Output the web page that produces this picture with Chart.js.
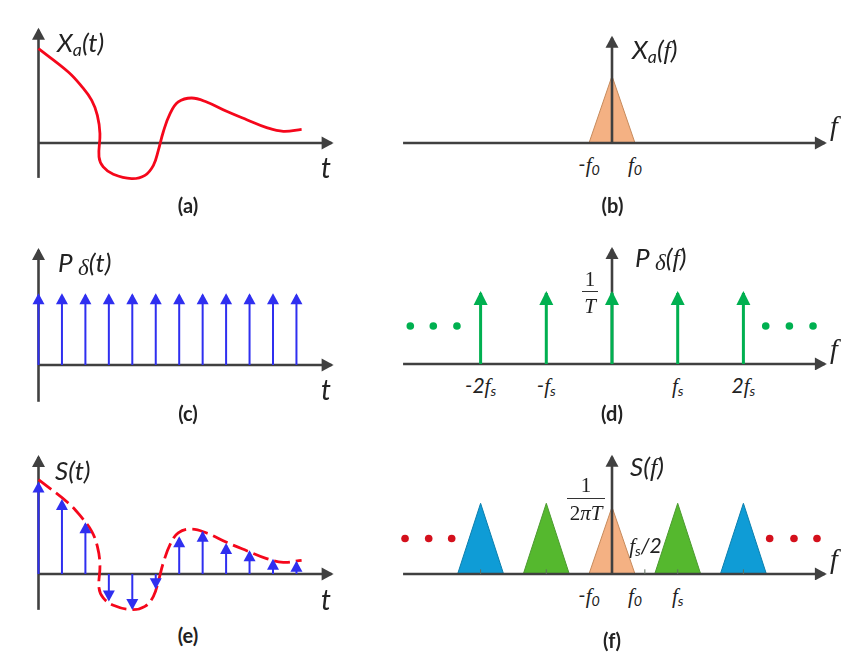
<!DOCTYPE html>
<html>
<head>
<meta charset="utf-8">
<script src="https://cdn.jsdelivr.net/npm/chart.js@4/dist/chart.umd.min.js"></script>
<style>
  html, body { margin: 0; background: #fff; }
  #page { position: relative; width: 865px; height: 671px; overflow: hidden; }
  canvas { position: absolute; }
  .txt { position: absolute; transform: translate(-50%, -50%); white-space: nowrap; color: #222;
         font-family: Lato, "Open Sans", sans-serif; font-style: italic; line-height: 1; }
  .txt sub { font-size: 68%; vertical-align: baseline; position: relative; top: 0.2em; }
  .ff { font-family: "Liberation Serif", serif; font-style: italic; }
  .name { font-size: 26px; transform: translate(0, -50%); }
  .end { font-size: 28px; }
  .tick { font-size: 21px; }
  .cap { font-size: 20px; font-weight: 700; font-style: normal; }
  .math { font-family: "Liberation Serif", serif; font-size: 21px; font-style: normal; }
  .math i { font-style: italic; }
  .delta { font-family: "Liberation Serif", serif; font-size: 23px; position: relative; top: 0.12em; }
  .bar { position: absolute; height: 1px; background: #333; }
</style>
</head>
<body>
<div id="page"></div>
<script>
// Continuous signal X_a(t), t in sample periods
const curveT = [0, 1.27, 1.84, 2.27, 2.51, 2.62, 2.58, 2.76, 3.19, 3.97, 4.54, 4.9, 5.11, 5.32, 5.61, 5.96, 6.53, 7.17, 8.02, 8.88, 9.73, 10.44, 11.22];
const curveY = [1, 0.753, 0.6, 0.452, 0.293, 0.099, -0.148, -0.254, -0.332, -0.378, -0.343, -0.237, -0.078, 0.117, 0.311, 0.435, 0.477, 0.435, 0.336, 0.247, 0.163, 0.124, 0.145];

// Sampling comb and sampled signal
const sampleT = [0, 1, 2, 3, 4, 5, 6, 7, 8, 9, 10, 11];
const combY = [0.74, 0.74, 0.74, 0.74, 0.74, 0.74, 0.74, 0.74, 0.74, 0.74, 0.74, 0.74];
const sampledY = [0.96, 0.774, 0.527, -0.27, -0.36, -0.14, 0.378, 0.438, 0.307, 0.23, 0.141, 0.12];

// Spectrum lines, f in units of fs
const combF = [-2, -1, 0, 1, 2];
const combFY = [1, 1, 1, 1, 1];
const dotsDF = [-3.07, -2.72, -2.36, 2.34, 2.7, 3.06];
const dotsDY = [0.535, 0.535, 0.535, 0.535, 0.535, 0.535];
const dotsSF = [-3.15, -2.79, -2.44, 2.4, 2.77, 3.12];
const dotsSY = [0.53, 0.53, 0.53, 0.53, 0.53, 0.53];

// Triangular spectra
const f0 = 0.35;
const baseF = [0];
const baseH = [1];
const imageF = [-1, 1];
const imageH = [1.055, 1.055];
const image2F = [-2, 2];
const image2H = [1.055, 1.055];
const smallTicks = [-2, -1, 0.5, 1, 2];

// Tick labels
const F = '<span class="ff">f</span>';
const ticksB = [-0.35, 0.35];
const ticksBLabels = [`-${F}<sub>0</sub>`, `${F}<sub>0</sub>`];
const ticksD = [-2, -1, 1, 2];
const ticksDLabels = [`-2${F}<sub>s</sub>`, `-${F}<sub>s</sub>`, `${F}<sub>s</sub>`, `2${F}<sub>s</sub>`];
const ticksF = [-0.35, 0.35, 1];
const ticksFLabels = [`-${F}<sub>0</sub>`, `${F}<sub>0</sub>`, `${F}<sub>s</sub>`];

const AXIS = "#404040", RED = "#f5071b", BLUE = "#2f2ff0", GREEN = "#00b050", DOT_RED = "#d4101c";

const page = document.getElementById("page");

function pts(xs, ys) {
  return xs.map((x, i) => ({ x: x, y: ys[i] }));
}

// vertical stems with a gap between them
function stems(xs, ys) {
  const out = [];
  xs.forEach((x, i) => {
    out.push({ x: x, y: 0 }, { x: x, y: ys[i] }, { x: null, y: null });
  });
  out.pop();
  return out;
}

function triangle(center, h, fillColor, edge) {
  return {
    data: [{ x: center - f0, y: 0 }, { x: center, y: h }, { x: center + f0, y: 0 }],
    showLine: true, pointRadius: 0, tension: 0, fill: { value: 0 },
    backgroundColor: fillColor, borderColor: edge, borderWidth: 1, order: 5
  };
}

function axisLine(data) {
  return { data: data, showLine: true, pointRadius: 0, borderColor: AXIS, borderWidth: 2.6, headLength: 12, headWidth: 13, order: 3 };
}

function impulses(xs, ys, color, width, len, headW) {
  return { data: stems(xs, ys), showLine: true, pointRadius: 0, borderColor: color, borderWidth: width, headLength: len, headWidth: headW, order: 1 };
}

function dots(xs, ys, color) {
  return { data: pts(xs, ys), showLine: false, pointRadius: 3.8, pointBackgroundColor: color, pointBorderWidth: 0, order: 1 };
}

// Draws a filled arrow head at the end of every line piece of a dataset
const arrowHeads = {
  id: "arrowHeads",
  afterDatasetDraw(chart, args) {
    const ds = chart.data.datasets[args.index];
    if (!ds.headLength) return;
    const p = args.meta.data, ctx = chart.ctx;
    for (let i = 1; i < p.length; i++) {
      if (p[i].skip || p[i - 1].skip) continue;
      if (p[i + 1] && !p[i + 1].skip) continue;
      const a = Math.atan2(p[i].y - p[i - 1].y, p[i].x - p[i - 1].x);
      ctx.save();
      ctx.translate(p[i].x, p[i].y);
      ctx.rotate(a);
      ctx.fillStyle = ds.borderColor;
      ctx.beginPath();
      ctx.moveTo(2, 0);
      ctx.lineTo(2 - ds.headLength, ds.headWidth / 2);
      ctx.lineTo(2 - ds.headLength, -ds.headWidth / 2);
      ctx.closePath();
      ctx.fill();
      ctx.restore();
    }
  }
};

// box is the canvas rectangle, origin and unit tie data values to the scales
function makePanel(box, origin, unit, datasets) {
  const c = document.createElement("canvas");
  c.width = box.w;
  c.height = box.h;
  c.style.left = box.x + "px";
  c.style.top = box.y + "px";
  c.style.width = box.w + "px";
  c.style.height = box.h + "px";
  page.appendChild(c);
  const chart = new Chart(c.getContext("2d"), {
    type: "scatter",
    data: { datasets: datasets },
    options: {
      responsive: false,
      animation: false,
      events: [],
      layout: { padding: 0, autoPadding: false },
      plugins: { legend: { display: false }, tooltip: { enabled: false }, title: { display: false } },
      scales: {
        x: { display: false, min: (box.x - origin.x) / unit.x, max: (box.x + box.w - origin.x) / unit.x },
        y: { display: false, min: (origin.y - box.y - box.h) / unit.y, max: (origin.y - box.y) / unit.y }
      }
    },
    plugins: [arrowHeads]
  });
  chart.box = box;
  return chart;
}

function text(html, x, y, cls) {
  const d = document.createElement("div");
  d.className = "txt " + cls;
  d.innerHTML = html;
  d.style.left = x + "px";
  d.style.top = y + "px";
  page.appendChild(d);
}

function tickLabels(chart, values, labels, y) {
  values.forEach((v, i) => {
    text(labels[i], chart.box.x + chart.scales.x.getPixelForValue(v), y, "tick");
  });
}

function fractionBar(x, y, w) {
  const d = document.createElement("div");
  d.className = "bar";
  d.style.left = x - w / 2 + "px";
  d.style.top = y + "px";
  d.style.width = w + "px";
  page.appendChild(d);
}

const tUnit = { x: 23.45, y: 94.3 };

// (a)
makePanel({ x: 20, y: 20, w: 330, h: 170 }, { x: 38.5, y: 143 }, tUnit, [
  { data: pts(curveT, curveY), showLine: true, pointRadius: 0, tension: 0.4, borderColor: RED, borderWidth: 2.8, order: 1 },
  axisLine([{ x: 0, y: 0 }, { x: 12.5, y: 0 }]),
  axisLine([{ x: 0, y: -0.37 }, { x: 0, y: 1.2 }])
]);

// (c)
makePanel({ x: 20, y: 235, w: 330, h: 175 }, { x: 38.5, y: 365 }, tUnit, [
  impulses(sampleT, combY, BLUE, 2, 11, 12),
  axisLine([{ x: 0, y: 0 }, { x: 12.5, y: 0 }]),
  axisLine([{ x: 0, y: -0.39 }, { x: 0, y: 1.22 }])
]);

// (e)
makePanel({ x: 20, y: 445, w: 330, h: 175 }, { x: 38.5, y: 574 }, tUnit, [
  impulses(sampleT, sampledY, BLUE, 2, 11, 12),
  { data: pts(curveT, curveY), showLine: true, pointRadius: 0, tension: 0.4, borderColor: RED, borderWidth: 2.8, borderDash: [16, 6], order: 2 },
  axisLine([{ x: 0, y: 0 }, { x: 12.5, y: 0 }]),
  axisLine([{ x: 0, y: -0.38 }, { x: 0, y: 1.24 }])
]);

const fAxis = [{ x: -3.18, y: 0 }, { x: 3.24, y: 0 }];

// (b)
const panelB = makePanel({ x: 395, y: 25, w: 445, h: 125 }, { x: 612, y: 143 }, { x: 65.7, y: 67 }, [
  axisLine(fAxis),
  axisLine([{ x: 0, y: 0 }, { x: 0, y: 1.57 }]),
  triangle(baseF[0], baseH[0], "#f4b183", "#c68a5c")
]);

// (d)
const panelD = makePanel({ x: 395, y: 240, w: 445, h: 130 }, { x: 612, y: 364 }, { x: 65.7, y: 71 }, [
  impulses(combF, combFY, GREEN, 3, 14, 14),
  dots(dotsDF, dotsDY, GREEN),
  axisLine(fAxis),
  axisLine([{ x: 0, y: 0 }, { x: 0, y: 1.62 }])
]);

// (f)
const panelF = makePanel({ x: 395, y: 450, w: 445, h: 130 }, { x: 612, y: 574 }, { x: 65.7, y: 67 }, [
  { data: stems(smallTicks, smallTicks.map(() => 0.07)), showLine: true, pointRadius: 0, borderColor: "#5f6f5f", borderWidth: 1, order: 2 },
  dots(dotsSF, dotsSY, DOT_RED),
  axisLine(fAxis),
  axisLine([{ x: 0, y: 0 }, { x: 0, y: 1.75 }]),
  triangle(baseF[0], baseH[0], "#f4b183", "#c68a5c"),
  triangle(imageF[0], imageH[0], "#55b82e", "#4c9a30"),
  triangle(imageF[1], imageH[1], "#55b82e", "#4c9a30"),
  triangle(image2F[0], image2H[0], "#0f9cd6", "#0b7fae"),
  triangle(image2F[1], image2H[1], "#0f9cd6", "#0b7fae")
]);

tickLabels(panelB, ticksB, ticksBLabels, 164);
tickLabels(panelD, ticksD, ticksDLabels, 385);
tickLabels(panelF, ticksF, ticksFLabels, 595);

// Axis names
text("X<sub>a</sub>(t)", 57, 42, "name");
text(`X<sub>a</sub>(${F})`, 632, 50, "name");
text('P <span class="delta">&delta;</span>(t)', 58, 262, "name");
text(`P <span class="delta">&delta;</span>(${F})`, 635, 258, "name");
text("S(t)", 55, 470, "name");
text(`S(${F})`, 630, 467, "name");
text("t", 326, 167, "end");
text("t", 326, 389, "end");
text("t", 326, 599, "end");
text(F, 834, 125, "end");
text(F, 834, 348, "end");
text(F, 834, 558, "end");

// Amplitude labels
text("1", 590, 279, "math");
fractionBar(590, 291, 16);
text("<i>T</i>", 590, 306, "math");
text("1", 586, 485, "math");
fractionBar(586, 498, 38);
text("2<i>&pi;T</i>", 586, 513, "math");
text(`${F}<sub>s</sub>/2`, 645.5, 545, "tick");

// Panel captions
text("(a)", 188, 205, "cap");
text("(b)", 612.5, 205, "cap");
text("(c)", 188, 413, "cap");
text("(d)", 612, 413, "cap");
text("(e)", 188, 635, "cap");
text("(f)", 612, 640, "cap");
</script>
</body>
</html>
